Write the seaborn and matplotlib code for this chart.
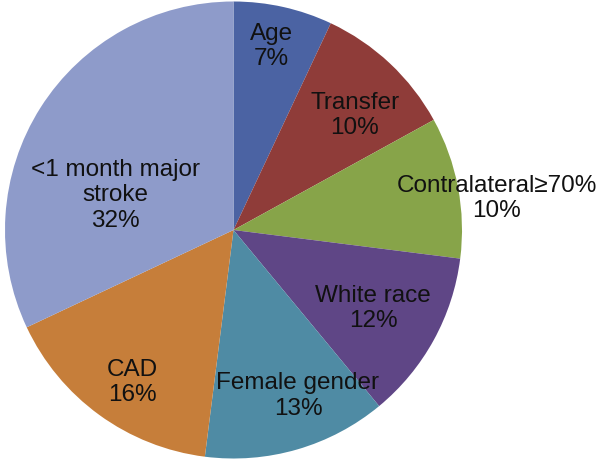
import numpy as np
import matplotlib
matplotlib.use("Agg")
import matplotlib.pyplot as plt
import seaborn as sns

# datos del grafico
labels = ["Age", "Transfer", "Contralateral\u226570%", "White race",
          "Female gender", "CAD", "<1 month major\nstroke"]
values = [7, 10, 10, 12, 13, 16, 32]
colores = ["#4B63A3", "#8F3C39", "#87A449", "#5F4686", "#4F8BA4", "#C67E3A", "#8E9BCA"]

# posicion de las etiquetas (radio relativo, desplazamiento angular en grados)
label_r = [0.82, 0.73, 1.16, 0.70, 0.78, 0.80, 0.54]
label_dang = [1.0, -3.5, -4.0, -0.5, 5.0, 2.5, 16.0]

sns.set_theme(style="white")
plt.rcParams["font.family"] = ["Liberation Sans", "DejaVu Sans"]

fig = plt.figure(figsize=(6, 4.61), dpi=100)
ax = fig.add_axes([5 / 600, 2.5 / 461, 457 / 600, 457 / 461])

palette = sns.color_palette(colores)
wedges, _ = ax.pie(values, colors=palette, startangle=90, counterclock=False,
                   wedgeprops={"linewidth": 0})
ax.set_xlim(-1, 1)
ax.set_ylim(-1, 1)
ax.set_aspect("equal")

for w, lab, v, r, da in zip(wedges, labels, values, label_r, label_dang):
    ang = np.deg2rad((w.theta1 + w.theta2) / 2 + da)
    ax.text(r * np.cos(ang), r * np.sin(ang), f"{lab}\n{v}%",
            ha="center", va="center", fontsize=17.5, color="#111111",
            linespacing=1.2, clip_on=False)

fig.savefig("out.png", dpi=100)
